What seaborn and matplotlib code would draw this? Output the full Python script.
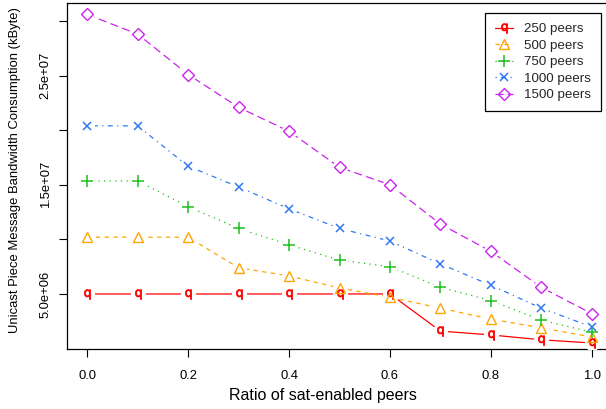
import matplotlib
matplotlib.use("Agg")
import matplotlib.pyplot as plt
from matplotlib.lines import Line2D
import seaborn as sns
import pandas as pd

# ---- data ----
ratio = [0.0, 0.1, 0.2, 0.3, 0.4, 0.5, 0.6, 0.7, 0.8, 0.9, 1.0]
peers_250 = [5.0e6, 5.0e6, 5.0e6, 5.0e6, 5.0e6, 5.0e6, 5.0e6, 1.6e6, 1.25e6, 0.8e6, 0.51e6]
peers_500 = [1.02e7, 1.02e7, 1.02e7, 7.4e6, 6.65e6, 5.55e6, 4.7e6, 3.7e6, 2.7e6, 1.9e6, 1.06e6]
peers_750 = [1.535e7, 1.535e7, 1.3e7, 1.1e7, 9.5e6, 8.1e6, 7.5e6, 5.6e6, 4.4e6, 2.6e6, 1.5e6]
peers_1000 = [2.04e7, 2.04e7, 1.67e7, 1.48e7, 1.28e7, 1.1e7, 9.85e6, 7.75e6, 5.8e6, 3.7e6, 1.98e6]
peers_1500 = [3.06e7, 2.88e7, 2.51e7, 2.21e7, 1.99e7, 1.66e7, 1.5e7, 1.14e7, 8.9e6, 5.6e6, 3.2e6]
series_names = ["250 peers", "500 peers", "750 peers", "1000 peers", "1500 peers"]
x_ticks = [0.0, 0.2, 0.4, 0.6, 0.8, 1.0]
x_tick_labels = ["0.0", "0.2", "0.4", "0.6", "0.8", "1.0"]
y_ticks = [5e6, 1e7, 1.5e7, 2e7, 2.5e7, 3e7]
y_tick_labels = ["5.0e+06", "", "1.5e+07", "", "2.5e+07", ""]
x_label = "Ratio of sat-enabled peers"
y_label = "Unicast Piece Message Bandwidth Consumption (kByte)"

values = [peers_250, peers_500, peers_750, peers_1000, peers_1500]
df = pd.concat(
    [pd.DataFrame({"ratio": ratio, "value": v, "series": n}) for n, v in zip(series_names, values)],
    ignore_index=True,
)

# ---- styles ----
styles = {
    "250 peers": dict(color="#FF0000", dashes=(None, None), marker=r"$\mathsf{q}$", ms=7, mew=0.6, fill=True),
    "500 peers": dict(color="#FFA500", dashes=(3.5, 3.5), marker="^", ms=7, mew=1.0, fill=False),
    "750 peers": dict(color="#1DC01D", dashes=(1, 3.5), marker="+", ms=8.5, mew=1.1, fill=False),
    "1000 peers": dict(color="#2F78F2", dashes=(1, 3.5, 4, 3.5), marker="x", ms=6, mew=1.1, fill=False),
    "1500 peers": dict(color="#CC22EE", dashes=(6.5, 3.5), marker="D", ms=6, mew=1.0, fill=False),
}

sns.set_theme(style="white")
plt.rcParams["font.family"] = ["Liberation Sans", "DejaVu Sans"]

fig = plt.figure(figsize=(6.06, 4.09), dpi=100)
ax = fig.add_axes([67 / 606, 60 / 409, 545 / 606, 346 / 409])

lw = 0.9
# lines
for name in series_names:
    st = styles[name]
    sub = df[df["series"] == name]
    sns.lineplot(data=sub, x="ratio", y="value", ax=ax, color=st["color"], lw=lw,
                 legend=False, zorder=2)
    line = ax.get_lines()[-1]
    if st["dashes"][0] is not None:
        line.set_dashes(st["dashes"])

# white gaps around points (R type="b")
sns.scatterplot(data=df, x="ratio", y="value", ax=ax, color="white", s=120,
                linewidth=0, legend=False, zorder=3)

# markers
for name in series_names:
    st = styles[name]
    sub = df[df["series"] == name]
    ax.plot(sub["ratio"], sub["value"], linestyle="none", marker=st["marker"],
            ms=st["ms"], mew=st["mew"], mec=st["color"],
            mfc=st["color"] if st["fill"] else "none", zorder=4)

ax.set_xlim(-0.04, 1.04)
ax.set_ylim(-0.04e6, 3.165e7)
ax.set_xticks(x_ticks)
ax.set_xticklabels(x_tick_labels)
ax.set_yticks(y_ticks)
ax.set_yticklabels(y_tick_labels, rotation=90, va="center")

for side in ["left", "bottom", "top", "right"]:
    ax.spines[side].set_visible(True)
    ax.spines[side].set_color("black")
    ax.spines[side].set_linewidth(0.9)

ax.tick_params(axis="both", which="major", direction="out", length=6, width=0.8,
               color="black", labelsize=9.4, labelcolor="black", bottom=True, left=True)
ax.tick_params(axis="x", pad=9)
ax.tick_params(axis="y", pad=5)

ax.set_xlabel(x_label, fontsize=11.5, color="black")
ax.xaxis.set_label_coords(0.47, -0.113)
ax.set_ylabel(y_label, fontsize=9.4, color="black")
ax.yaxis.set_label_coords(-0.084, 0.517)

handles = []
for name in series_names:
    st = styles[name]
    h = Line2D([0], [0], color=st["color"], lw=lw, marker=st["marker"],
               ms=st["ms"], mew=st["mew"], mec=st["color"],
               mfc=st["color"] if st["fill"] else "none")
    if st["dashes"][0] is not None:
        h.set_dashes(st["dashes"])
    handles.append(h)

leg = ax.legend(handles, series_names, loc="upper right",
                bbox_to_anchor=(601 / 606, 1 - 13 / 409), bbox_transform=fig.transFigure,
                fontsize=9.6, frameon=True, fancybox=False, framealpha=1,
                edgecolor="black", borderpad=0.75, labelspacing=0.31,
                handlelength=1.4, handletextpad=0.8, borderaxespad=0)
leg.get_frame().set_linewidth(0.9)

fig.savefig("out.png", dpi=100)
